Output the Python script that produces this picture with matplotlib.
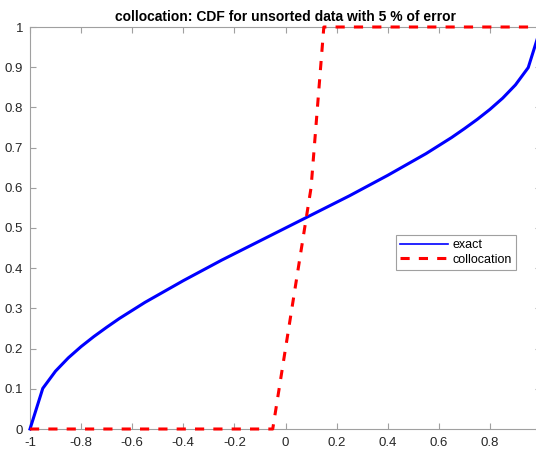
import matplotlib
matplotlib.use("Agg")
import matplotlib.pyplot as plt

plt.rcParams['font.family'] = ['Liberation Sans', 'DejaVu Sans']

# exact CDF, sampled every 0.05 on [-1, 1]
x_exact = [-1.0, -0.95, -0.9, -0.85, -0.8, -0.75, -0.7, -0.65, -0.6, -0.55, -0.5,
           -0.45, -0.4, -0.35, -0.3, -0.25, -0.2, -0.15, -0.1, -0.05, 0.0,
           0.05, 0.1, 0.15, 0.2, 0.25, 0.3, 0.35, 0.4, 0.45, 0.5,
           0.55, 0.6, 0.65, 0.7, 0.75, 0.8, 0.85, 0.9, 0.95, 1.0]
y_exact = [0.0, 0.101, 0.144, 0.177, 0.205, 0.230, 0.253, 0.275, 0.295, 0.315, 0.333,
           0.351, 0.369, 0.386, 0.403, 0.420, 0.436, 0.452, 0.468, 0.484, 0.5,
           0.516, 0.532, 0.548, 0.564, 0.580, 0.597, 0.614, 0.631, 0.649, 0.667,
           0.685, 0.705, 0.725, 0.747, 0.770, 0.795, 0.823, 0.856, 0.899, 1.0]

# collocation CDF
x_coll = [-1.0, -0.05, 0.0, 0.05, 0.1, 0.15, 1.0]
y_coll = [0.0, 0.0, 0.2, 0.4, 0.6, 1.0, 1.0]

xticks = [-1, -0.8, -0.6, -0.4, -0.2, 0, 0.2, 0.4, 0.6, 0.8]
xticklabels = ['-1', '-0.8', '-0.6', '-0.4', '-0.2', '0', '0.2', '0.4', '0.6', '0.8']
yticks = [0, 0.1, 0.2, 0.3, 0.4, 0.5, 0.6, 0.7, 0.8, 0.9, 1]
yticklabels = ['0', '0.1', '0.2', '0.3', '0.4', '0.5', '0.6', '0.7', '0.8', '0.9', '1']

fig = plt.figure(figsize=(5.36, 4.51), dpi=100)
ax = fig.add_axes([30/536, 22/451, 511/536, 402/451])

ax.plot(x_exact, y_exact, color='#0000ff', lw=2.2, label='exact', clip_on=False)
ax.plot(x_coll, y_coll, color='#ff0000', lw=2.2, ls=(0, (3, 3)), label='collocation',
        clip_on=False)

ax.set_xlim(-1, 1)
ax.set_ylim(0, 1)
ax.set_xticks(xticks)
ax.set_xticklabels(xticklabels)
ax.set_yticks(yticks)
ax.set_yticklabels(yticklabels)

for s in ax.spines.values():
    s.set_color('#a0a0a0')
    s.set_linewidth(0.8)
    s.set_zorder(1)
ax.tick_params(direction='in', length=4, color='#a0a0a0', labelcolor='#262626',
               labelsize=9.5, top=True, right=True)
ax.tick_params(axis='x', pad=6)
ax.tick_params(axis='y', pad=5)

ax.set_title('collocation: CDF for unsorted data with 5 % of error',
             fontsize=10, fontweight='bold', pad=4)

leg = ax.legend(loc='lower left', bbox_to_anchor=(0.716, 0.395), fontsize=9,
                fancybox=False, framealpha=1, edgecolor='#a0a0a0',
                handlelength=3.8, handletextpad=0.35, borderpad=0.35,
                labelspacing=0.2, borderaxespad=0)
leg.get_frame().set_linewidth(0.8)
leg.get_lines()[0].set_linewidth(1.2)

fig.savefig('out.png', dpi=100)
